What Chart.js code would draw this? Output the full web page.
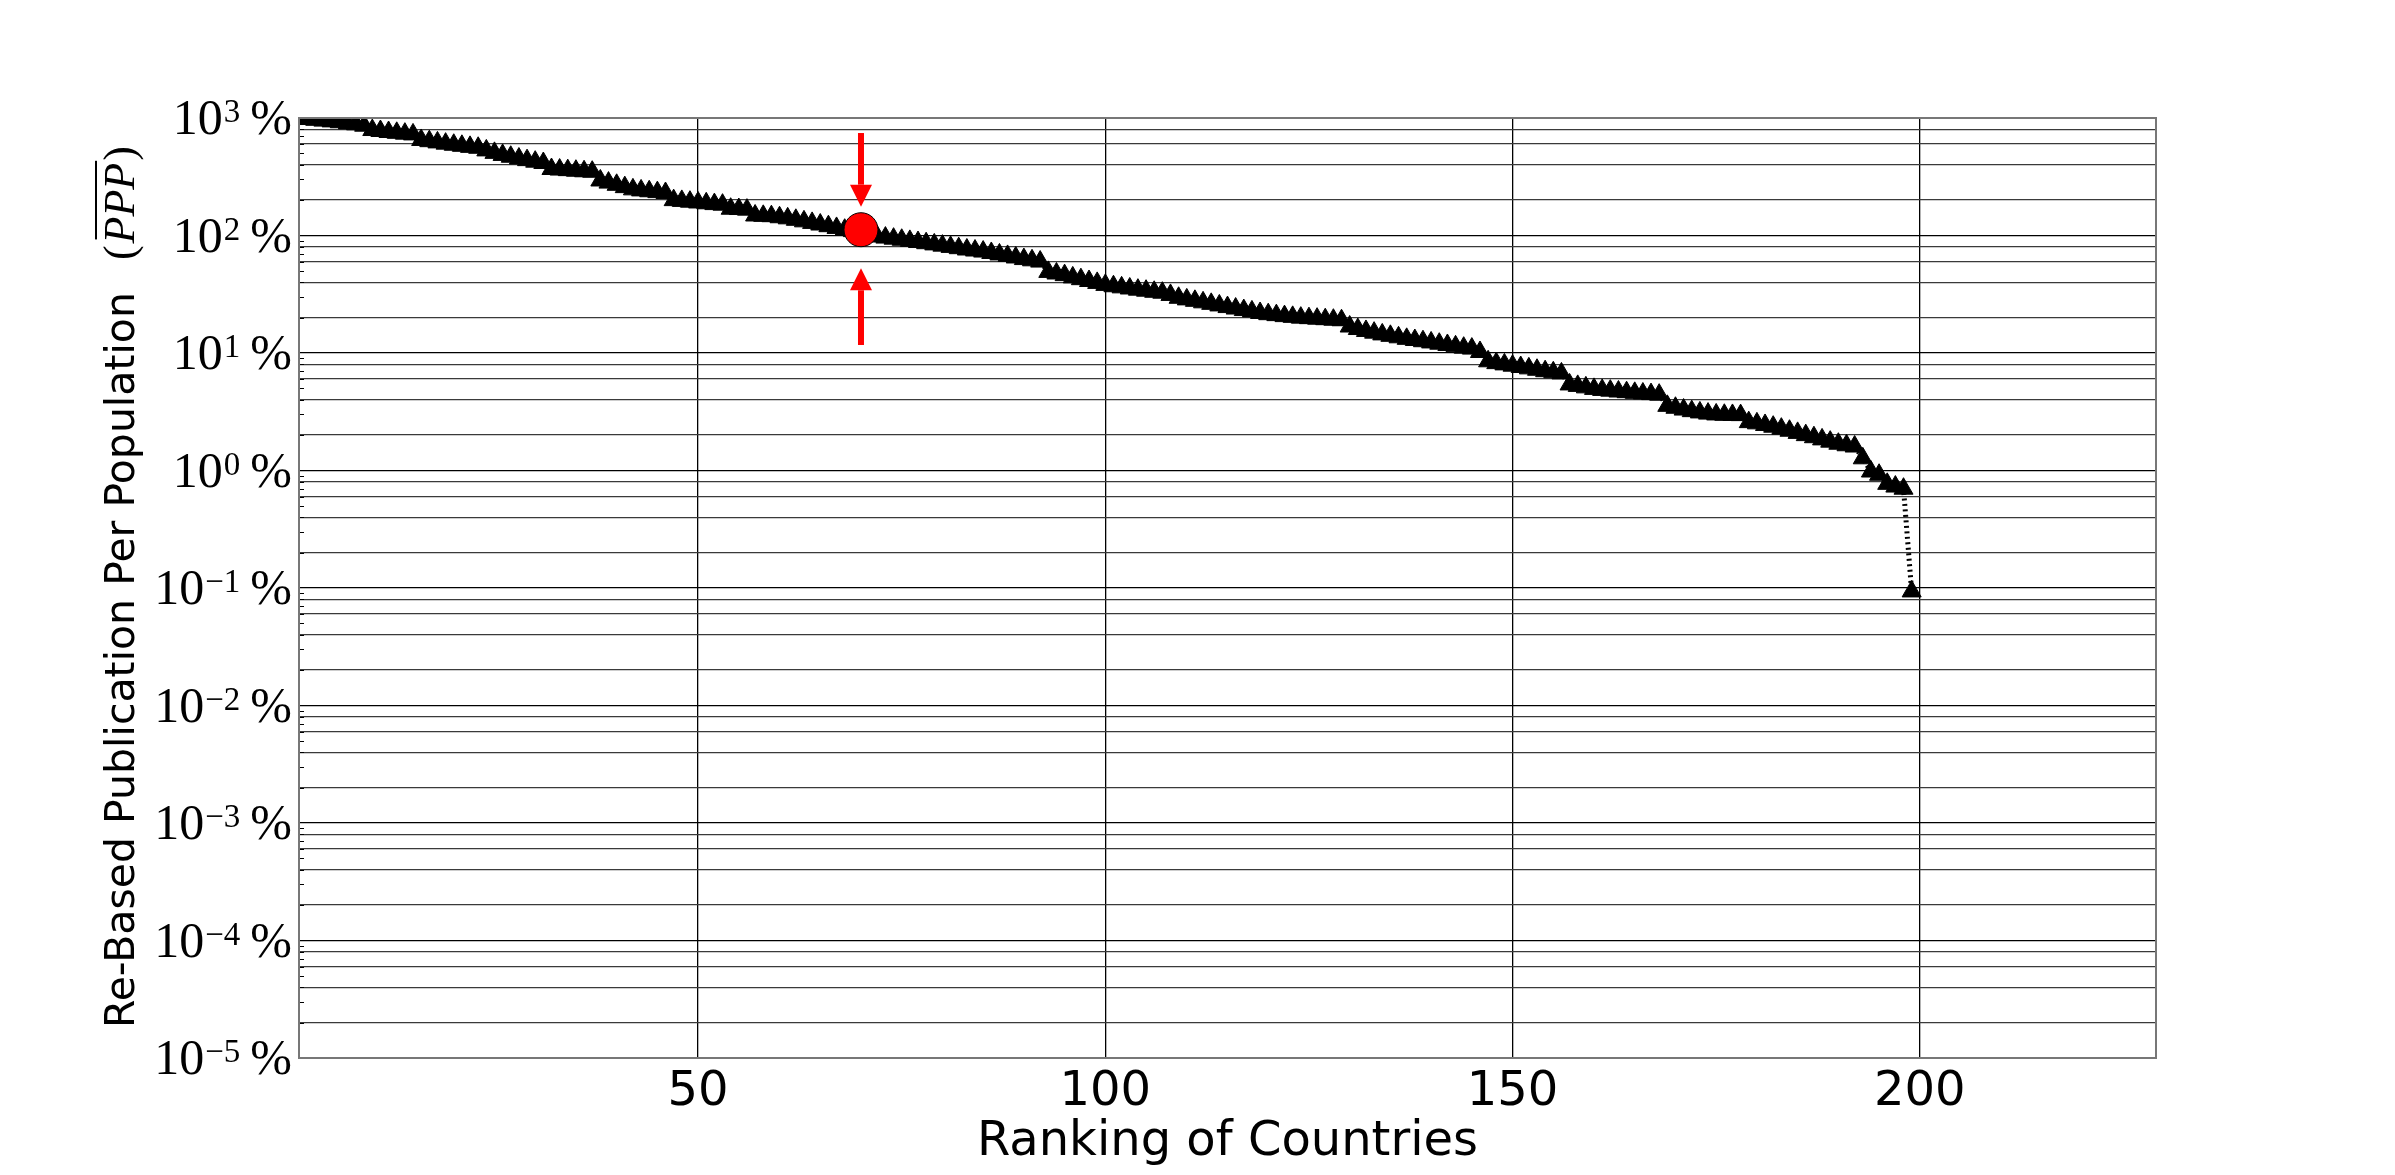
<!DOCTYPE html>
<html>
<head>
<meta charset="utf-8">
<script src="https://cdn.jsdelivr.net/npm/chart.js@4.4.1/dist/chart.umd.min.js"></script>
<style>
html, body { margin: 0; padding: 0; background: #fff; }
#wrap { width: 2395px; height: 1175px; position: relative; }
</style>
</head>
<body>
<div id="wrap"><canvas id="pppChart"></canvas></div>
<script>
// re-based PPP (%) per country, ordered by ranking (rank = position in list)
var pppValues = [
  990, 980, 965, 950, 936, 920, 900, 883, 860, 790,
  775, 760, 748, 736, 725, 650, 635, 620, 605, 592,
  580, 568, 558, 530, 505, 485, 468, 452, 438, 425,
  414, 368, 364, 360, 356, 352, 349, 294, 282, 270,
  258, 247, 242, 238, 234, 230, 200, 197, 194, 191,
  188, 185, 183, 169, 168, 166, 148, 147, 146, 143,
  140, 136, 132, 128, 124, 120, 116, 112, 109, 106,
  102, 98, 96, 94, 92, 90, 88, 86, 84, 82,
  80, 78, 76, 74.5, 73, 71, 69, 67, 65, 63,
  61.5, 60, 49, 47.5, 46, 44, 42.5, 41, 39.5, 38,
  37, 36.2, 35.4, 34.6, 33.9, 33.2, 32.6, 31.2, 29.5, 28.6,
  27.8, 27.0, 26.2, 25.4, 24.6, 23.9, 23.2, 22.6, 21.9, 21.4,
  21.0, 20.6, 20.3, 20.0, 19.8, 19.6, 19.4, 19.2, 19.0, 16.8,
  16.0, 15.4, 14.9, 14.4, 14.0, 13.6, 13.2, 12.9, 12.6, 12.3,
  12.0, 11.7, 11.4, 11.1, 10.9, 10.2, 8.5, 8.2, 8.0, 7.8,
  7.6, 7.4, 7.2, 7.0, 6.85, 6.7, 5.4, 5.25, 5.1, 4.95,
  4.85, 4.78, 4.7, 4.64, 4.58, 4.52, 4.47, 4.42, 3.55, 3.42,
  3.3, 3.2, 3.12, 3.05, 3.0, 2.98, 2.97, 2.96, 2.58, 2.52,
  2.44, 2.36, 2.27, 2.18, 2.09, 2.0, 1.92, 1.84, 1.76, 1.69,
  1.64, 1.6, 1.27, 0.98, 0.92, 0.77, 0.73, 0.70, 0.0935
];

var highlightRank = [70];
var highlightValue = [112];

// red arrows pointing at the highlighted country
var arrowRank = [70, 70];
var arrowFrom = [745, 11.7];
var arrowTo = [176, 52.6];

var xTickValues = [50, 100, 150, 200];
var yDecades = [-5, -4, -3, -2, -1, 0, 1, 2, 3];
var yGridSubs = [1, 2, 4, 6, 8];

var xTitle = "Ranking of Countries";
var yTitle = "Re-Based Publication Per Population";
var yTitleSymbol = "PPP";

var SERIF = "'Liberation Serif', 'DejaVu Serif', serif";
var SANS = "'DejaVu Sans', sans-serif";

function toPoints(xs, ys) {
    return ys.map(function (v, i) { return { x: xs ? xs[i] : i + 1, y: v }; });
}

var decorPlugin = {
    id: 'decor',
    afterDatasetsDraw: function (chart) {
        var ctx = chart.ctx, area = chart.chartArea;
        var xs = chart.scales.x, ys = chart.scales.y;
        ctx.save();

        // arrows
        ctx.fillStyle = '#ff0000';
        for (var i = 0; i < arrowRank.length; i++) {
            var x = xs.getPixelForValue(arrowRank[i]);
            var y0 = ys.getPixelForValue(arrowFrom[i]);
            var y1 = ys.getPixelForValue(arrowTo[i]);
            var dir = y1 > y0 ? 1 : -1;
            var head = 22;
            var yb = y1 - dir * head;
            ctx.fillRect(x - 3, Math.min(y0, yb), 6, Math.abs(yb - y0));
            ctx.beginPath();
            ctx.moveTo(x, y1);
            ctx.lineTo(x - 11, yb);
            ctx.lineTo(x + 11, yb);
            ctx.closePath();
            ctx.fill();
        }

        // small inward ticks on the left spine
        ctx.strokeStyle = '#000';
        ctx.lineWidth = 1;
        yDecades.forEach(function (e) {
            if (e === 3) return;
            for (var k = 2; k <= 9; k++) {
                var y = Math.round(ys.getPixelForValue(k * Math.pow(10, e))) + 0.5;
                ctx.beginPath();
                ctx.moveTo(area.left, y);
                ctx.lineTo(area.left + 5, y);
                ctx.stroke();
            }
        });

        // frame
        ctx.strokeStyle = '#777';
        ctx.lineWidth = 2;
        ctx.strokeRect(area.left, area.top, area.right - area.left, area.bottom - area.top);
        ctx.restore();
    },
    afterDraw: function (chart) {
        var ctx = chart.ctx, area = chart.chartArea;
        var ys = chart.scales.y;
        ctx.save();
        ctx.fillStyle = '#000';
        ctx.textAlign = 'left';
        ctx.textBaseline = 'alphabetic';

        // y tick labels: 10^e %
        yDecades.forEach(function (e) {
            var y = ys.getPixelForValue(Math.pow(10, e));
            var sup = e < 0 ? '\u2212' + (-e) : String(e);
            ctx.font = '50px ' + SERIF;
            var wPct = ctx.measureText('%').width;
            var w10 = ctx.measureText('10').width;
            ctx.font = '33px ' + SERIF;
            var wSup = ctx.measureText(sup).width;
            var xPct = area.left - 7 - wPct;
            var xSup = xPct - 10 - wSup;
            var x10 = xSup - w10 - 1;
            ctx.font = '50px ' + SERIF;
            ctx.fillText('10', x10, y + 16);
            ctx.fillText('%', xPct, y + 16);
            ctx.font = '33px ' + SERIF;
            ctx.fillText(sup, xSup, y + 4);
        });

        // x title
        ctx.font = '48px ' + SANS;
        ctx.textAlign = 'center';
        ctx.fillText(xTitle, (area.left + area.right) / 2, 1155);

        // y title, rotated
        ctx.translate(134, area.bottom - 30);
        ctx.rotate(-Math.PI / 2);
        ctx.textAlign = 'left';
        ctx.font = '41px ' + SANS;
        ctx.fillText(yTitle, 0, 0);
        var pos = ctx.measureText(yTitle).width + 32;
        ctx.font = '44px ' + SERIF;
        ctx.fillText('(', pos, 0);
        pos += ctx.measureText('(').width + 2;
        ctx.font = 'italic 44px ' + SERIF;
        var wSym = ctx.measureText(yTitleSymbol).width;
        ctx.fillText(yTitleSymbol, pos, 0);
        ctx.fillRect(pos + 4, -39, wSym - 2, 2);
        pos += wSym + 2;
        ctx.font = '44px ' + SERIF;
        ctx.fillText(')', pos, 0);
        ctx.restore();
    }
};

new Chart(document.getElementById('pppChart'), {
    type: 'line',
    data: {
        datasets: [{
            data: toPoints(highlightRank, highlightValue),
            showLine: false,
            pointStyle: 'circle',
            pointRadius: 17,
            pointBackgroundColor: '#ff0000',
            pointBorderColor: '#000',
            pointBorderWidth: 1,
            order: 0,
            clip: 0
        }, {
            data: toPoints(null, pppValues),
            borderColor: '#000',
            borderWidth: 5,
            borderDash: [2, 3.5],
            tension: 0,
            pointStyle: 'triangle',
            pointRadius: 11,
            pointBackgroundColor: '#000',
            pointBorderColor: '#000',
            pointBorderWidth: 1,
            order: 1,
            clip: 0
        }]
    },
    options: {
        responsive: true,
        maintainAspectRatio: false,
        animation: false,
        devicePixelRatio: 1,
        layout: { padding: { top: 118, right: 239, left: 0, bottom: 0 } },
        plugins: { legend: { display: false }, tooltip: { enabled: false } },
        scales: {
            x: {
                type: 'linear',
                min: 1,
                max: 229,
                afterFit: function (s) { s.height = 117; },
                afterBuildTicks: function (s) {
                    s.ticks = xTickValues.map(function (v) { return { value: v }; });
                },
                grid: { color: '#000', lineWidth: 1.3, drawTicks: false },
                border: { display: false },
                ticks: {
                    font: { family: SANS, size: 48 },
                    color: '#000',
                    padding: 6,
                    maxRotation: 0
                }
            },
            y: {
                type: 'logarithmic',
                min: 1e-5,
                max: 1e3,
                afterFit: function (s) { s.width = 299; },
                afterBuildTicks: function (s) {
                    var t = [];
                    yDecades.forEach(function (e) {
                        yGridSubs.forEach(function (m) {
                            var v = m * Math.pow(10, e);
                            if (v <= 1e3) t.push({ value: v });
                        });
                    });
                    s.ticks = t;
                },
                grid: {
                    lineWidth: 1.3,
                    drawTicks: false,
                    color: function (c) {
                        var e = Math.log10(c.tick ? c.tick.value : 1);
                        return Math.abs(e - Math.round(e)) < 1e-6 ? '#000' : '#3a3a3a';
                    }
                },
                border: { display: false },
                ticks: { display: false }
            }
        }
    },
    plugins: [decorPlugin]
});
</script>
</body>
</html>
